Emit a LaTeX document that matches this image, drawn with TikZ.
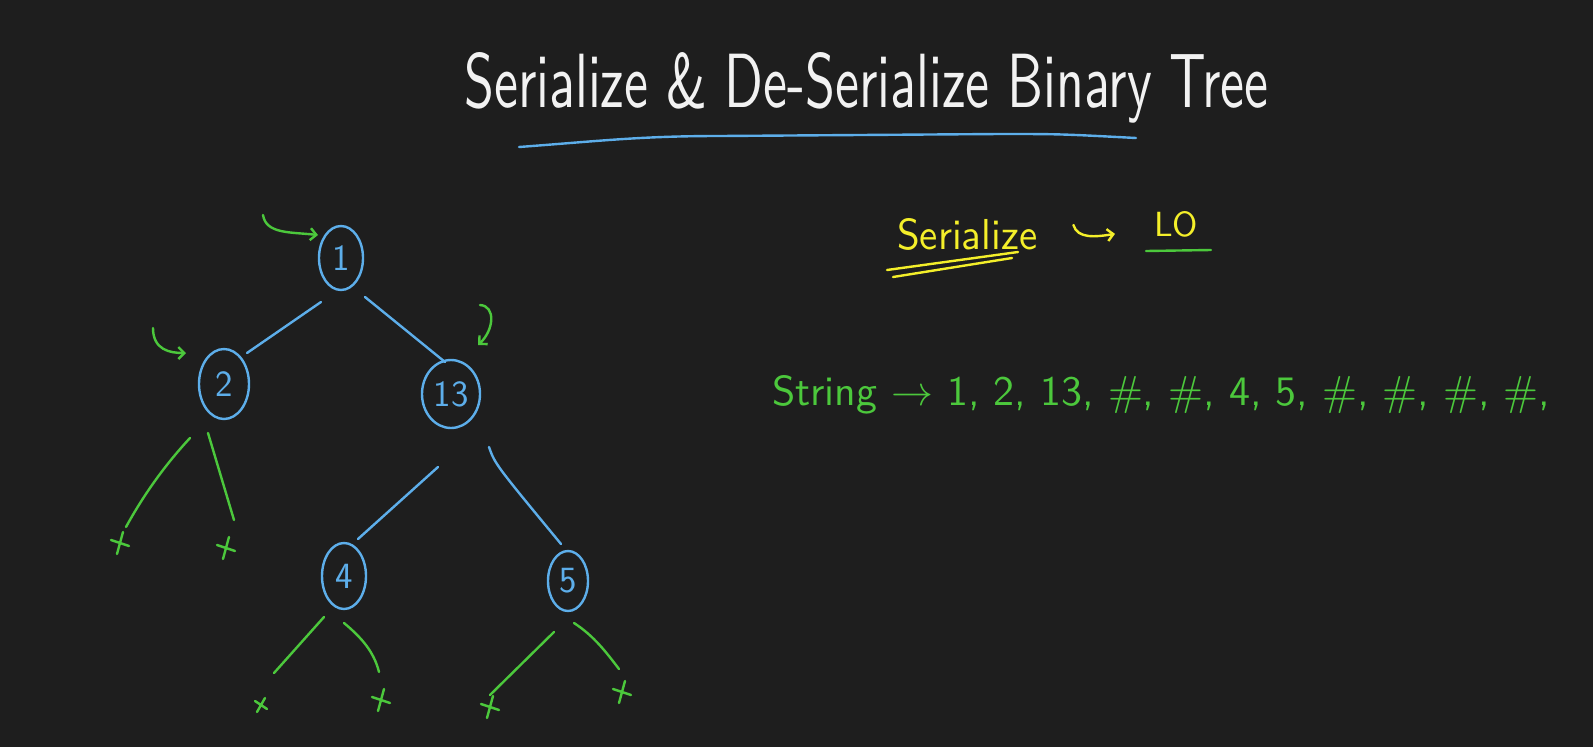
\documentclass[tikz,border=0pt]{standalone}
\usepackage{fontspec}
\usepackage{graphicx}
\usetikzlibrary{shapes.geometric,arrows.meta,calc}
\definecolor{bg}{HTML}{1E1E1E}
\definecolor{hblue}{HTML}{5DAEEA}
\definecolor{hgreen}{HTML}{4CC83C}
\definecolor{hyellow}{HTML}{F4EF2A}
\definecolor{hwhite}{HTML}{F2F2F2}
\begin{document}
\begin{tikzpicture}[x=1pt,y=-1pt,line cap=round,line join=round,
  tnode/.style={ellipse,draw=hblue,line width=2.4pt,inner sep=0pt,text=hblue,font=\sffamily\fontsize{37}{37}\selectfont},
  edge/.style={draw=hblue,line width=2.4pt},
  nulledge/.style={draw=hgreen,line width=2.4pt},
  ptr/.style={draw=hgreen,line width=2.4pt,-{Straight Barb[length=6pt,width=12pt]}},
  lbl/.style={inner sep=0pt,anchor=base west},
  xm/.pic={\draw[hgreen,line width=2.4pt] (-9,-3)--(9,3) (3,-11)--(-3,11);},
  xms/.pic={\draw[hgreen,line width=2.4pt] (-6,-4)--(6,4) (4,-7)--(-4,7);},
]
\fill[bg] (0,0) rectangle (1593,747);
\useasboundingbox (0,0) rectangle (1593,747);

% title
\node[lbl,text=hwhite] (title) at (464,107) {\resizebox{804pt}{55pt}{\sffamily Serialize \& De-Serialize Binary Tree}};
\draw[hblue,line width=2.4pt] (519,147) .. controls (600,141) and (640,136) .. (720,136) -- (1000,134) .. controls (1060,134) .. (1136,138);

% serialize -> LO
\node[lbl,text=hyellow] (ser) at (897,249) {\resizebox{140pt}{31pt}{\sffamily Serialize}};
\draw[hyellow,line width=2.4pt] (887,270) -- (1018,252);
\draw[hyellow,line width=2.4pt] (893,277) -- (1012,258);
\node[lbl,text=hyellow] (lo) at (1154,236) {\resizebox{44pt}{25pt}{\sffamily LO}};
\draw[hgreen,line width=2.4pt] (1146,251) -- (1211,250);
\draw[hyellow,line width=2.4pt,-{Straight Barb[length=6pt,width=12pt]}] ($(ser.east)+(36,-9)$) .. controls ($(ser.east)+(40,5)$) and ($(ser.east)+(58,3)$) .. ($(lo.west)+(-39,10)$);

% string
\node[lbl,text=hgreen] (str) at (772,405) {\resizebox{778pt}{30pt}{\sffamily String $\rightarrow$ 1, 2, 13, \#, \#, 4, 5, \#, \#, \#, \#,}};

% tree nodes
\node[tnode,minimum width=44pt,minimum height=64pt] (n1) at (341,258) {1};
\node[tnode,minimum width=50pt,minimum height=70pt] (n2) at (224,384) {2};
\node[tnode,minimum width=58pt,minimum height=68pt] (n13) at (451,394) {13};
\node[tnode,minimum width=44pt,minimum height=66pt] (n4) at (344,576) {4};
\node[tnode,minimum width=40pt,minimum height=60pt] (n5) at (568,581) {5};

% edges
\draw[edge] ($(n1)+(-20,44)$) -- ($(n2)+(23,-31)$);
\draw[edge] ($(n1)+(24,39)$) -- ($(n13)+(-6,-32)$);
\draw[edge] ($(n13)+(-13,73)$) -- ($(n4)+(14,-37)$);
\draw[edge] ($(n13)+(38,53)$) .. controls ($(n13)+(44,70)$) .. ($(n5)+(-7,-37)$);

% null markers
\coordinate (xa) at (120,543);
\coordinate (xb) at (226,548);
\coordinate (xc) at (261,705);
\coordinate (xd) at (381,700);
\coordinate (xe) at (490,707);
\coordinate (xf) at (622,692);
\pic at (xa) {xm};
\pic at (xb) {xm};
\pic at (xc) {xms};
\pic at (xd) {xm};
\pic at (xe) {xm};
\pic at (xf) {xm};

\draw[nulledge] ($(n2)+(-34,54)$) .. controls (164,466) and (143,496) .. ($(xa)+(6,-16)$);
\draw[nulledge] ($(n2)+(-16,49)$) -- ($(xb)+(8,-28)$);
\draw[nulledge] ($(n4)+(-20,41)$) -- ($(xc)+(13,-32)$);
\draw[nulledge] ($(n4)+(0,47)$) .. controls (362,638) and (374,652) .. ($(xd)+(-2,-28)$);
\draw[nulledge] ($(n5)+(-14,51)$) -- ($(xe)+(0,-12)$);
\draw[nulledge] ($(n5)+(6,42)$) .. controls (594,636) and (606,652) .. ($(xf)+(-3,-23)$);

% pointers
\coordinate (p1) at (263,215);
\coordinate (p2) at (153,328);
\coordinate (p3) at (480,305);
\draw[ptr] (p1) .. controls (266,234) and (290,232) .. ($(n1)+(-23,-23)$);
\draw[ptr] (p2) .. controls (153,350) and (170,353) .. ($(n2)+(-38,-31)$);
\draw[ptr] (p3) .. controls (496,306) and (494,330) .. ($(n13)+(27,-49)$);
\end{tikzpicture}
\end{document}
